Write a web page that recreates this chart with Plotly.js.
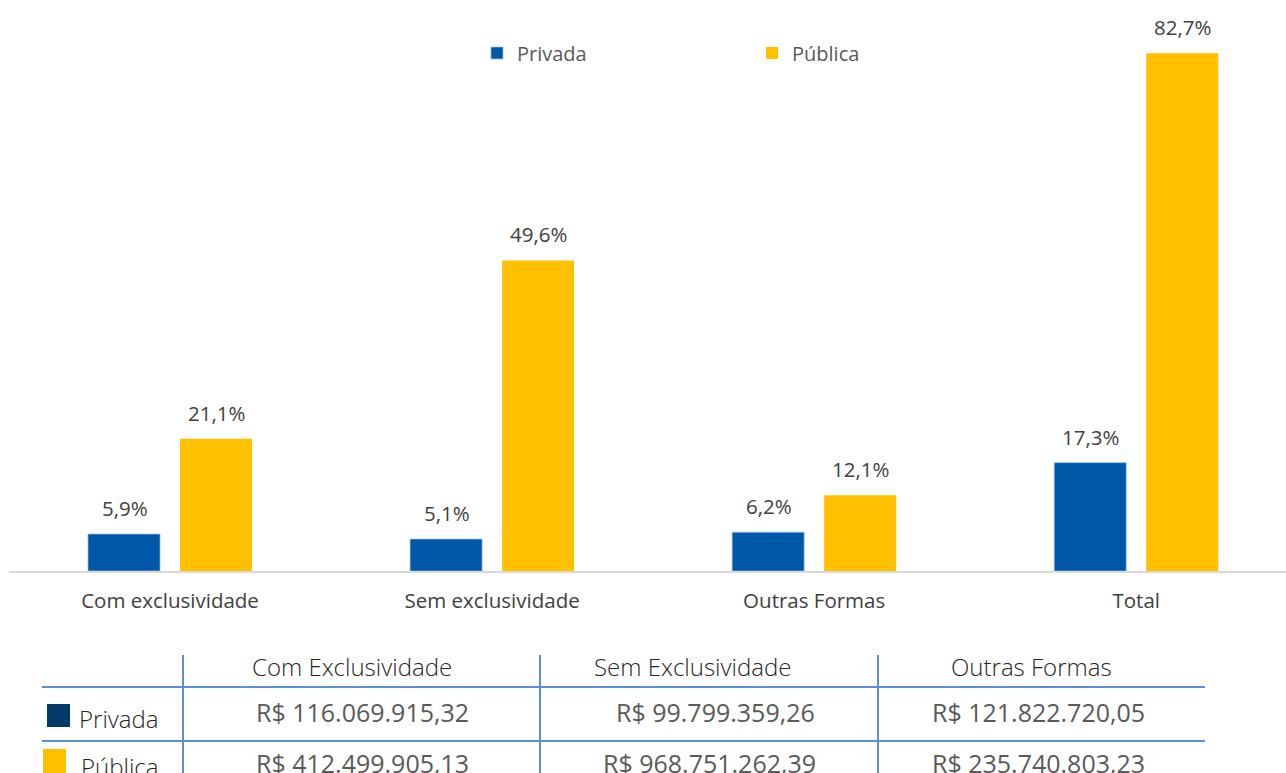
<!DOCTYPE html>
<html>
<head>
<meta charset="utf-8">
<script src="https://cdn.plot.ly/plotly-3.0.1.min.js"></script>
<style>html,body{margin:0;padding:0;background:#fff;}#chart{width:1286px;height:773px;}</style>
</head>
<body>
<div id="chart"></div>
<script>
// ---- data ----
const categorias = ['Com exclusividade', 'Sem exclusividade', 'Outras Formas', 'Total'];
const privada = [5.9, 5.1, 6.2, 17.3];
const publica = [21.1, 49.6, 12.1, 82.7];
const series = ['Privada', 'Pública'];
const tabelaColunas = ['Com Exclusividade', 'Sem Exclusividade', 'Outras Formas'];
const privadaValores = ['R$ 116.069.915,32', 'R$ 99.799.359,26', 'R$ 121.822.720,05'];
const publicaValores = ['R$ 412.499.905,13', 'R$ 968.751.262,39', 'R$ 235.740.803,23'];

// ---- styles ----
const W = 1286, H = 773;
const mL = 9, mR = 0, mT = 0, mB = 202;
const plotW = W - mL - mR, plotH = H - mT - mB;
const px = x => (x - mL) / plotW;
const py = y => (H - mB - y) / plotH;
const FONT = 'Open Sans, Noto Sans, sans-serif';
const cPriv = '#0058A8', cPub = '#FFC000';
const gridC = '#5B8ED6';
const fmt = v => v.toFixed(1).replace('.', ',') + '%';

const barW = 0.2236;
const traces = [
  {type: 'bar', name: series[0], x: categorias, y: privada, width: barW, offset: -0.2547,
    marker: {color: cPriv, line: {color: '#9DBCE0', width: 0.7}}, hoverinfo: 'none'},
  {type: 'bar', name: series[1], x: categorias, y: publica, width: barW, offset: 0.031,
    marker: {color: cPub, line: {width: 0}}, hoverinfo: 'none'}
];

const annotations = [];
const shapes = [];
// bar value labels
[privada, publica].forEach((arr, si) => {
  arr.forEach((v, i) => {
    annotations.push({xref: 'x', yref: 'y', x: categorias[i], y: v, text: fmt(v), showarrow: false,
      xshift: si === 0 ? -45.5 : 46, yanchor: 'bottom', yshift: 10,
      font: {family: FONT, size: 20.5, color: '#404040'}});
  });
});

// table
const vlines = [183, 540, 878];
vlines.forEach(x => shapes.push({type: 'line', xref: 'paper', yref: 'paper', x0: px(x), x1: px(x), y0: py(655), y1: py(775), line: {color: gridC, width: 2}}));
[687, 741].forEach(y => shapes.push({type: 'line', xref: 'paper', yref: 'paper', x0: px(42), x1: px(1205), y0: py(y), y1: py(y), line: {color: gridC, width: 2}}));
const headCenters = [352, 692, 1031];
const row1Centers = [362, 715, 1038];
const row2Centers = [362, 709, 1038];
tabelaColunas.forEach((t, i) => annotations.push({xref: 'paper', yref: 'paper', x: px(headCenters[i]), y: py(666), text: t, showarrow: false,
  xanchor: 'center', yanchor: 'middle', font: {family: FONT, size: 24, weight: 300, color: '#262626'}}));
privadaValores.forEach((t, i) => annotations.push({xref: 'paper', yref: 'paper', x: px(row1Centers[i]), y: py(712), text: t, showarrow: false,
  xanchor: 'center', yanchor: 'middle', font: {family: FONT, size: 25, color: '#595959'}}));
publicaValores.forEach((t, i) => annotations.push({xref: 'paper', yref: 'paper', x: px(row2Centers[i]), y: py(763), text: t, showarrow: false,
  xanchor: 'center', yanchor: 'middle', font: {family: FONT, size: 25, color: '#595959'}}));
// row labels with swatches
shapes.push({type: 'rect', xref: 'paper', yref: 'paper', x0: px(47), x1: px(70), y0: py(727), y1: py(704), fillcolor: '#033A6A', line: {width: 0}});
shapes.push({type: 'rect', xref: 'paper', yref: 'paper', x0: px(43), x1: px(66), y0: py(773), y1: py(749), fillcolor: '#FFC000', line: {width: 0}});
annotations.push({xref: 'paper', yref: 'paper', x: px(77), y: py(718), text: series[0], showarrow: false, xanchor: 'left', yanchor: 'middle',
  font: {family: FONT, size: 24, weight: 300, color: '#262626'}});
annotations.push({xref: 'paper', yref: 'paper', x: px(79), y: py(766), text: series[1], showarrow: false, xanchor: 'left', yanchor: 'middle',
  font: {family: FONT, size: 24, weight: 300, color: '#262626'}});

const layout = {
  width: W, height: H,
  margin: {l: mL, r: mR, t: mT, b: mB, pad: 0},
  paper_bgcolor: '#fff', plot_bgcolor: '#fff',
  barmode: 'overlay',
  showlegend: true,
  legend: {orientation: 'h', x: px(477), y: py(53), xanchor: 'left', yanchor: 'middle', entrywidth: 230, entrywidthmode: 'pixels',
    itemwidth: 30, font: {family: FONT, size: 20, color: '#595959'}, bgcolor: 'rgba(0,0,0,0)', itemclick: false},
  xaxis: {type: 'category', range: [-0.5, 3.465], showline: true, linecolor: '#D9D9D9', linewidth: 1.5, showgrid: false, zeroline: false,
    ticks: '', tickfont: {family: FONT, size: 20.5, color: '#404040'}, ticklabelstandoff: 11, fixedrange: true},
  yaxis: {range: [0, plotH / 6.262], visible: false, fixedrange: true},
  annotations: annotations,
  shapes: shapes
};

Plotly.newPlot('chart', traces, layout, {displayModeBar: false, staticPlot: true});
</script>
</body>
</html>
